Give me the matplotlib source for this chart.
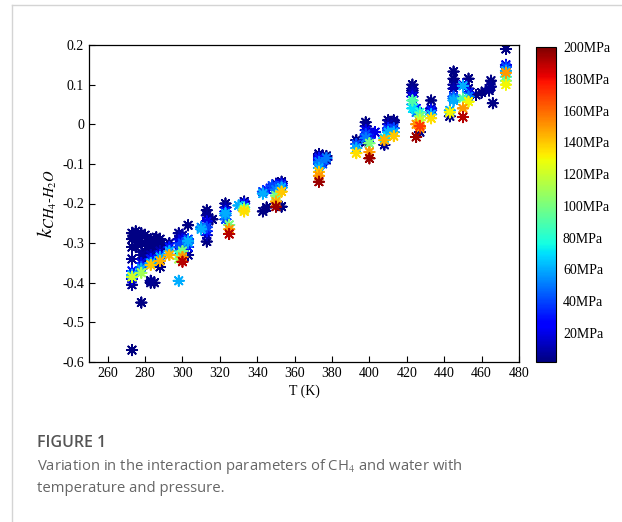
import numpy as np
import matplotlib.pyplot as plt
from matplotlib.lines import Line2D

# temperature (K), interaction parameter k, pressure (MPa)
T = [273, 273, 273, 273, 273, 273, 273, 273, 273, 273,
     275, 275, 275, 276, 282, 286, 287, 290,
     278, 278, 278, 278, 278, 278, 278, 278, 278,
     280, 280, 280, 280,
     283, 283, 283, 283, 283, 283, 283, 283,
     285, 285, 285, 285,
     288, 288, 288, 288, 288, 288,
     293, 293, 293, 293,
     298, 298, 298, 298, 298, 298, 298, 298,
     300, 300, 300, 300, 300, 300,
     303, 303, 303, 303, 303, 303,
     310, 310, 313, 313, 313, 313, 313, 313, 313, 316,
     323, 323, 323, 323, 323, 323, 325, 325, 325,
     330, 333, 333, 333, 333, 333,
     343, 343, 343, 345, 345, 348, 348,
     350, 350, 350, 350, 350, 350,
     353, 353, 353, 353, 353, 353,
     373, 373, 373, 373, 373, 373, 373, 373, 373, 373,
     375, 375, 375, 377, 377, 377,
     393, 393, 393, 393,
     398, 398, 398, 398, 398, 398, 398,
     400, 400, 400, 400, 400, 403,
     408, 408, 408,
     410, 410, 410, 410, 410,
     413, 413, 413, 413, 413,
     423, 423, 423, 423, 423, 423, 423, 423,
     425, 425, 425, 425,
     427, 427, 427, 427, 427, 427,
     433, 433, 433, 433, 433,
     443, 443, 443,
     445, 445, 445, 445, 445, 445, 445,
     450, 450, 450, 450, 450,
     453, 453, 453, 453, 453,
     457, 460, 464, 464, 465, 465, 466,
     473, 473, 473, 473, 473, 473, 473, 473]
K = [-0.57, -0.405, -0.39, -0.385, -0.38, -0.37, -0.34, -0.31, -0.29, -0.275,
     -0.27, -0.29, -0.31, -0.285, -0.30, -0.285, -0.31, -0.305,
     -0.45, -0.375, -0.365, -0.36, -0.35, -0.33, -0.30, -0.28, -0.275,
     -0.28, -0.30, -0.32, -0.34,
     -0.40, -0.395, -0.355, -0.35, -0.34, -0.33, -0.31, -0.29,
     -0.29, -0.32, -0.30, -0.40,
     -0.345, -0.335, -0.33, -0.32, -0.29, -0.36,
     -0.33, -0.32, -0.31, -0.30,
     -0.395, -0.34, -0.33, -0.31, -0.30, -0.29, -0.275, -0.32,
     -0.347, -0.335, -0.32, -0.30, -0.29, -0.28,
     -0.255, -0.29, -0.30, -0.31, -0.33, -0.295,
     -0.265, -0.26, -0.217, -0.23, -0.245, -0.26, -0.27, -0.28, -0.296, -0.24,
     -0.20, -0.21, -0.22, -0.23, -0.24, -0.225, -0.254, -0.265, -0.277,
     -0.205, -0.195, -0.20, -0.21, -0.215, -0.22,
     -0.22, -0.175, -0.17, -0.21, -0.165, -0.16, -0.155,
     -0.15, -0.155, -0.165, -0.18, -0.195, -0.208,
     -0.145, -0.15, -0.155, -0.16, -0.17, -0.208,
     -0.075, -0.08, -0.09, -0.10, -0.11, -0.12, -0.13, -0.145, -0.085, -0.095,
     -0.08, -0.09, -0.10, -0.08, -0.09, -0.085,
     -0.04, -0.05, -0.06, -0.073,
     0.005, -0.005, -0.015, -0.025, -0.035, -0.045, -0.03,
     -0.02, -0.035, -0.048, -0.07, -0.086, -0.02,
     -0.04, -0.052, -0.035,
     0.01, 0.0, -0.01, -0.02, -0.015,
     0.005, -0.01, -0.02, -0.03, 0.01,
     0.10, 0.09, 0.08, 0.07, 0.06, 0.05, 0.04, 0.085,
     0.04, 0.0, -0.032, 0.03,
     0.02, 0.01, -0.005, 0.03, -0.02, -0.01,
     0.06, 0.035, 0.025, 0.015, 0.04,
     0.03, 0.02, 0.035,
     0.133, 0.115, 0.10, 0.09, 0.07, 0.06, 0.065,
     0.097, 0.065, 0.04, 0.018, 0.10,
     0.115, 0.09, 0.08, 0.07, 0.057,
     0.074, 0.08, 0.09, 0.085, 0.11, 0.095, 0.053,
     0.19, 0.15, 0.145, 0.135, 0.13, 0.12, 0.11, 0.10]
P = [2, 5, 20, 120, 60, 30, 5, 3, 3, 3,
     3, 3, 3, 3, 3, 3, 3, 3,
     3, 110, 60, 40, 20, 5, 3, 3, 3,
     3, 3, 3, 3,
     3, 5, 140, 60, 30, 10, 3, 3,
     3, 3, 3, 3,
     145, 60, 30, 10, 3, 3,
     145, 60, 30, 5,
     60, 110, 80, 40, 20, 10, 5, 3,
     190, 150, 100, 40, 20, 10,
     3, 40, 50, 30, 5, 60,
     60, 50, 3, 5, 20, 40, 30, 10, 3, 3,
     3, 10, 30, 50, 40, 60, 100, 150, 190,
     60, 3, 30, 80, 120, 135,
     3, 60, 40, 3, 30, 20, 40,
     10, 30, 50, 100, 145, 195,
     3, 20, 40, 60, 140, 3,
     3, 10, 20, 40, 60, 140, 150, 195, 30, 50,
     5, 30, 40, 3, 10, 50,
     3, 40, 60, 135,
     3, 5, 20, 40, 50, 3, 30,
     10, 30, 100, 150, 195, 20,
     145, 5, 70,
     3, 10, 30, 60, 40,
     5, 40, 60, 140, 3,
     3, 5, 10, 20, 90, 60, 70, 3,
     30, 150, 195, 50,
     100, 120, 170, 80, 3, 150,
     3, 30, 60, 135, 10,
     130, 3, 60,
     3, 3, 5, 10, 40, 60, 50,
     60, 90, 150, 190, 20,
     3, 5, 30, 50, 130,
     3, 3, 5, 3, 3, 5, 3,
     3, 20, 40, 60, 150, 80, 100, 130]

cbar_ticks = [20, 40, 60, 80, 100, 120, 140, 160, 180, 200]

plt.rcParams['font.family'] = 'Liberation Serif'
plt.rcParams['mathtext.fontset'] = 'stix'

fig = plt.figure(figsize=(6.22, 5.22), dpi=100)

# light frame round the figure panel
fig.add_artist(Line2D([12/622, 12/622], [0, 1 - 5/522], color='#d4d4d4', lw=1))
fig.add_artist(Line2D([12/622, 1], [1 - 5/522, 1 - 5/522], color='#d4d4d4', lw=1))

# draw low pressures first so the high-pressure points stay visible
order = np.argsort(P, kind='stable')
Ts = np.array(T)[order]
Ks = np.array(K)[order]
Ps = np.array(P)[order]

ax = fig.add_axes([89/622, 1 - 362/522, 430/622, 317/522])
sc = ax.scatter(Ts, Ks, c=Ps, cmap='jet', vmin=1.7, vmax=200,
                marker=(8, 2, 0), s=55, linewidths=1.3)
ax.set_xlim(250, 480)
ax.set_ylim(-0.6, 0.2)
ax.set_xticks(np.arange(260, 481, 20))
ax.set_yticks(np.arange(-0.6, 0.21, 0.1))
ax.set_yticklabels(['-0.6', '-0.5', '-0.4', '-0.3', '-0.2', '-0.1', '0', '0.1', '0.2'])
ax.tick_params(direction='in', labelsize=10, length=4, width=0.8)
for s in ax.spines.values():
    s.set_linewidth(0.9)
ax.set_xlabel('T (K)', fontsize=10, labelpad=3)
ax.set_ylabel(r'$k_{CH_4\text{-}H_2O}$', fontsize=15, labelpad=2)

cax = fig.add_axes([536/622, 1 - 362/522, 20/622, 315/522])
cb = fig.colorbar(sc, cax=cax, ticks=cbar_ticks)
cb.ax.set_yticklabels([f'{t}MPa' for t in cbar_ticks])
cb.ax.tick_params(length=0, labelsize=10, pad=5)
cb.outline.set_linewidth(0.8)

fig.text(37/622, 1 - 443/522, 'FIGURE 1', family='Open Sans', weight='semibold',
         fontsize=11.5, color='#555555', va='center')
fig.text(37/622, 1 - 466/522, 'Variation in the interaction parameters of CH$_4$ and water with',
         family='Open Sans', fontsize=10.7, color='#666666', va='center')
fig.text(37/622, 1 - 488/522, 'temperature and pressure.',
         family='Open Sans', fontsize=10.7, color='#666666', va='center')

fig.savefig('out.png', dpi=100)
